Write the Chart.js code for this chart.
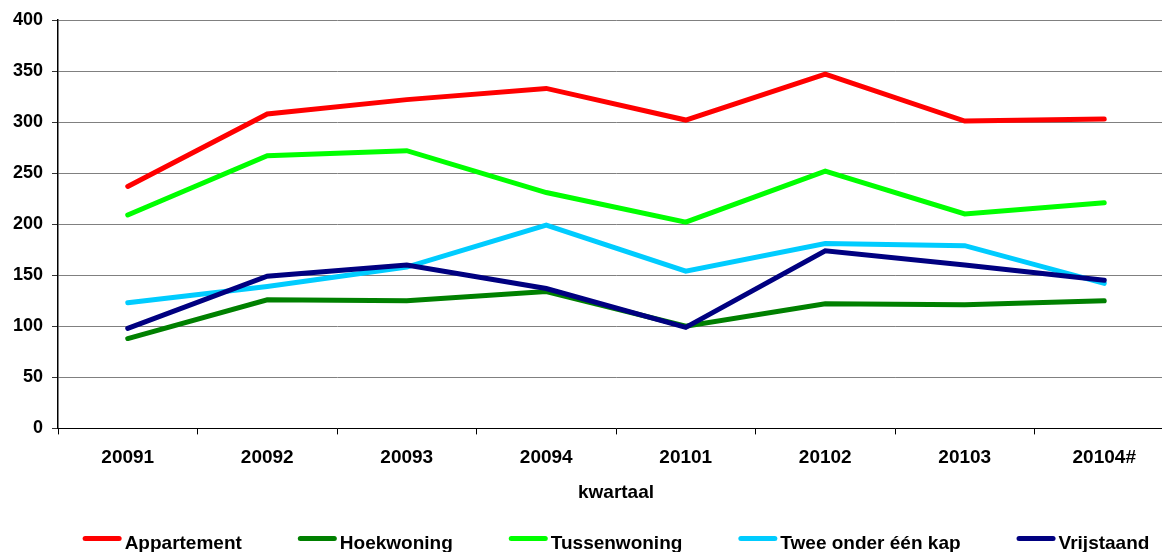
<!DOCTYPE html>
<html>
<head>
<meta charset="utf-8">
<title>Verkopen per woningtype</title>
<script src="https://cdn.jsdelivr.net/npm/chart.js@4.4.1/dist/chart.umd.min.js"></script>
<style>
  html, body { margin: 0; padding: 0; background: #fff; overflow: hidden; }
  #wrap { width: 1174px; height: 552px; }
</style>
</head>
<body>
<div id="wrap"><canvas id="c" width="1174" height="552"></canvas></div>
<script>
// Quarters on the x axis
const categories = ['20091', '20092', '20093', '20094', '20101', '20102', '20103', '20104#'];

// Values per dwelling type
const appartement     = [237, 308, 322, 333, 302, 347, 301, 303];
const hoekwoning      = [88, 126, 125, 134, 100, 122, 121, 125];
const tussenwoning    = [209, 267, 272, 231, 202, 252, 210, 221];
const tweeOnderEenKap = [123, 139, 158, 199, 154, 181, 179, 142];
const vrijstaand      = [98, 149, 160, 137, 99, 174, 160, 145];

// Y axis ticks
const yTicks = [0, 50, 100, 150, 200, 250, 300, 350, 400];

const FONT = '"Liberation Sans", Arial, Helvetica, sans-serif';

const series = [
  { label: 'Appartement',        data: appartement,     color: '#FF0000' },
  { label: 'Hoekwoning',         data: hoekwoning,      color: '#008000' },
  { label: 'Tussenwoning',       data: tussenwoning,    color: '#00FF00' },
  { label: 'Twee onder één kap', data: tweeOnderEenKap, color: '#00CCFF' },
  { label: 'Vrijstaand',         data: vrijstaand,      color: '#000080' }
];

// Legend drawn as short thick line samples, centred under the plot area
const lineLegend = {
  id: 'lineLegend',
  afterDraw(chart) {
    const { ctx, chartArea } = chart;
    const sample = 39, gap = 3, spacing = 56;
    const lineY = 538.5, textY = 549;
    ctx.save();
    ctx.font = 'bold 19px ' + FONT;
    const items = chart.data.datasets.map(ds => ({
      text: ds.label, color: ds.borderColor, w: ctx.measureText(ds.label).width
    }));
    const total = items.reduce((s, it) => s + sample + gap + it.w, 0) + spacing * (items.length - 1);
    let x = (chartArea.left + chartArea.right) / 2 - total / 2;
    items.forEach(it => {
      ctx.strokeStyle = it.color;
      ctx.lineWidth = 5;
      ctx.lineCap = 'round';
      ctx.beginPath();
      ctx.moveTo(x + 2.5, lineY);
      ctx.lineTo(x + sample - 2.5, lineY);
      ctx.stroke();
      ctx.fillStyle = '#000';
      ctx.textBaseline = 'alphabetic';
      ctx.textAlign = 'left';
      ctx.fillText(it.text, x + sample + gap, textY);
      x += sample + gap + it.w + spacing;
    });
    ctx.restore();
  }
};

new Chart(document.getElementById('c'), {
  type: 'line',
  data: {
    labels: categories,
    datasets: series.map((s, i) => ({
      label: s.label,
      data: s.data,
      borderColor: s.color,
      backgroundColor: s.color,
      borderWidth: 5,
      borderCapStyle: 'round',
      borderJoinStyle: 'miter',
      pointRadius: 0,
      pointHoverRadius: 0,
      tension: 0,
      fill: false,
      order: series.length - 1 - i
    }))
  },
  options: {
    responsive: false,
    animation: false,
    devicePixelRatio: 1,
    layout: { padding: { top: 20, right: 0, bottom: 48, left: 0 } },
    plugins: {
      legend: { display: false },
      tooltip: { enabled: false }
    },
    scales: {
      x: {
        type: 'category',
        offset: true,
        grid: {
          offset: true,
          drawOnChartArea: false,
          drawTicks: true,
          tickLength: 6,
          tickColor: '#000'
        },
        border: { color: '#000', width: 1 },
        ticks: {
          color: '#000',
          padding: 12,
          maxRotation: 0,
          autoSkip: false,
          font: { family: FONT, size: 19, weight: 'bold' }
        },
        title: {
          display: true,
          text: 'kwartaal',
          color: '#000',
          padding: { top: 0, bottom: 0 },
          font: { family: FONT, size: 19, weight: 'bold' }
        }
      },
      y: {
        min: 0,
        max: 400,
        afterFit(scale) { scale.width = 58; },
        afterBuildTicks(scale) { scale.ticks = yTicks.map(v => ({ value: v })); },
        grid: {
          color: '#808080',
          lineWidth: 1,
          drawTicks: true,
          tickLength: 6,
          tickColor: '#333'
        },
        border: { color: '#000', width: 1.5 },
        ticks: {
          color: '#000',
          padding: 9,
          font: { family: FONT, size: 18, weight: 'bold' }
        }
      }
    }
  },
  plugins: [lineLegend]
});
</script>
</body>
</html>
